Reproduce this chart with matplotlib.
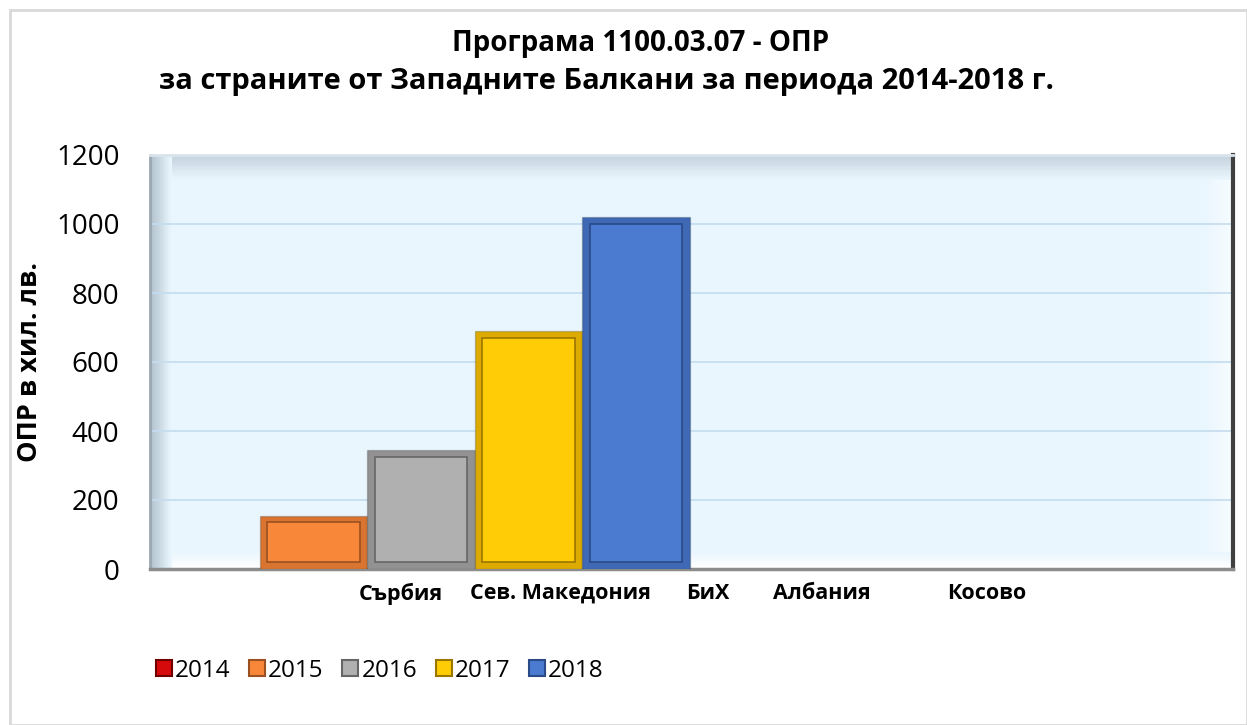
import numpy as np
import matplotlib
matplotlib.use("Agg")
from matplotlib import pyplot as plt
from matplotlib.patches import Rectangle
from matplotlib.lines import Line2D
from matplotlib.colors import to_rgb


# data
years = ["2014", "2015", "2016", "2017", "2018"]
values = [0, 155, 345, 690, 1020]
countries = ["Сърбия", "Сев. Македония", "БиХ", "Албания", "Косово"]
country_pos = [2.31, 3.80, 5.17, 6.23, 7.76]
yticks = [0, 200, 400, 600, 800, 1000, 1200]

colors = ["#D60A0A", "#F9873A", "#B0B0B0", "#FFCC05", "#4A7BD0"]
rims = ["#B00808", "#D97530", "#929292", "#DDAA00", "#3F69B4"]
edges = ["#700000", "#9A5020", "#666666", "#9A7600", "#2A4A88"]

plt.rcParams['font.family'] = ['Open Sans', 'DejaVu Sans']


"""
    Fill a band of the axes with a simple colour gradient
"""
def gradient_band(ax, x0, y0, w, h, c0, c1, vertical=True, steps=20):
    a, b = np.array(to_rgb(c0)), np.array(to_rgb(c1))
    for i in range(steps):
        t = i / (steps - 1)
        col = a + (b - a) * t
        if vertical:
            r = Rectangle((x0, y0 + h * i / steps), w, h / steps * 1.05)
        else:
            r = Rectangle((x0 + w * i / steps, y0), w / steps * 1.05, h)
        r.set_transform(ax.transAxes)
        r.set_facecolor(col)
        r.set_edgecolor("none")
        r.set_zorder(0.5)
        ax.add_patch(r)


fig = plt.figure(figsize=(12.47, 7.25), dpi=100)
fig.patches.append(Rectangle((10 / 1247, 0), 1 - 10 / 1247, 1 - 10 / 725,
                             transform=fig.transFigure, fill=False,
                             edgecolor="#D9D9D9", linewidth=2))

ax = fig.add_axes([150 / 1247, 1 - 569 / 725, 1083 / 1247, 414 / 725])
ax.set_facecolor("#EAF6FD")

# bevel of the plot area
gradient_band(ax, 0, 0.94, 1, 0.06, "#EAF6FD", "#C4D2DE")
gradient_band(ax, 0, 0, 1, 0.04, "#FFFFFF", "#EAF6FD")
gradient_band(ax, 0, 0.0, 0.02, 1.0, "#AFC0CC", "#EAF6FD", vertical=False)
gradient_band(ax, 0.975, 0.04, 0.025, 0.90, "#EAF6FD", "#F6FCFF", vertical=False)

# bars: darker rim with an inset face to look bevelled
x = np.arange(len(values))
vals = np.array(values, dtype=float)
inset_x, inset_y = 0.07, 20
ax.bar(x, vals, width=1.0, align="edge", color=rims,
       edgecolor="#00000030", linewidth=[1 if v > 0 else 0 for v in vals], zorder=3)
ax.bar(x + inset_x, np.clip(vals - 2 * inset_y, 0, None), bottom=inset_y,
       width=1.0 - 2 * inset_x, align="edge", color=colors, edgecolor=edges,
       linewidth=[1.2 if v > 2 * inset_y else 0 for v in vals], zorder=4)

ax.set_xlim(-0.02, 10.05)
ax.set_ylim(0, 1200)
ax.set_yticks(yticks)
ax.set_yticklabels([str(v) for v in yticks], fontsize=20)
ax.set_xticks(country_pos)
ax.set_xticklabels(countries, fontsize=15.5, fontweight="bold")
ax.tick_params(axis="both", length=0)
ax.tick_params(axis="x", pad=10)
ax.tick_params(axis="y", pad=22)
ax.grid(axis="y", color="#C3DCEF", linewidth=1.2, zorder=1)

for side in ["top", "left"]:
    ax.spines[side].set_color("#D8E3EA")
    ax.spines[side].set_linewidth(2)
ax.spines["left"].set_color("#9AA8B2")
ax.spines["right"].set_color("#404040")
ax.spines["right"].set_linewidth(3)
ax.spines["bottom"].set_color("#8C8C8C")
ax.spines["bottom"].set_linewidth(2.5)

ax.set_ylabel("ОПР в хил. лв.", fontsize=19.5, fontweight="bold", labelpad=9)

fig.text(0.514, 1 - 43 / 725, "Програма 1100.03.07 - ОПР",
         ha="center", va="center", fontsize=20, fontweight="bold")
fig.text(0.486, 1 - 81 / 725, "за страните от Западните Балкани за периода 2014-2018 г.",
         ha="center", va="center", fontsize=21, fontweight="bold")

handles = [Line2D([], [], marker="s", linestyle="none", markersize=11,
                  markerfacecolor=c, markeredgecolor=e, markeredgewidth=1.5)
           for c, e in zip(colors, edges)]
fig.legend(handles, years, loc="center left", bbox_to_anchor=(0.108, 1 - 671 / 725),
           ncol=5, frameon=False, fontsize=17.5, handlelength=0.6,
           handletextpad=0.15, columnspacing=0.8)

plt.savefig("out.png", dpi=100)
